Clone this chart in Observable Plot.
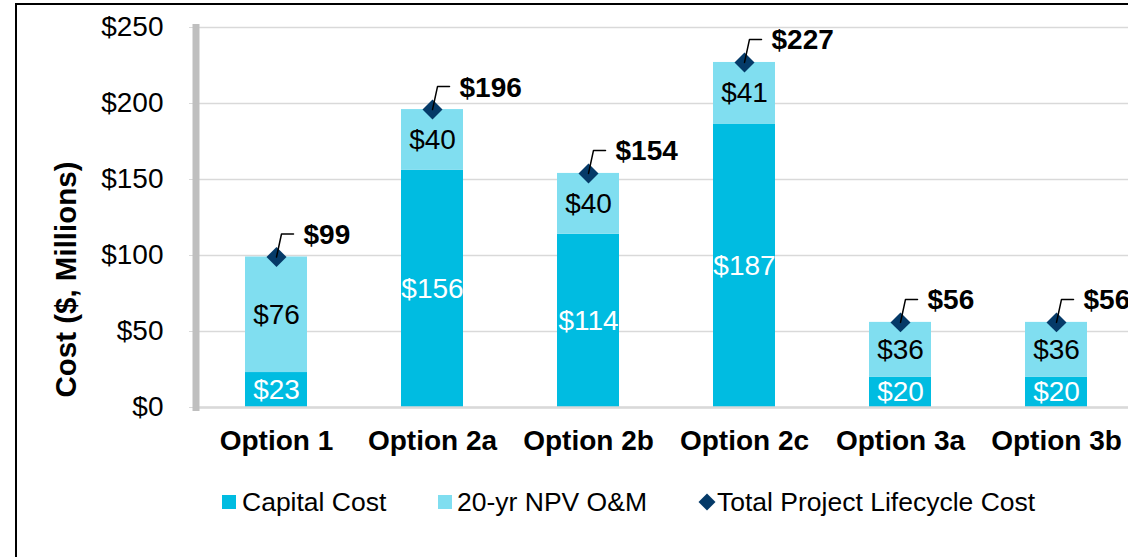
<!DOCTYPE html>
<html>
<head>
<meta charset="utf-8">
<script src="https://cdn.jsdelivr.net/npm/d3@7"></script>
<script src="https://cdn.jsdelivr.net/npm/@observablehq/plot@0.6"></script>
<style>
  html, body { margin: 0; padding: 0; background: #fff; overflow: hidden; }
  body { width: 1128px; height: 557px; position: relative; font-family: Arial, "Liberation Sans", sans-serif; }
  #border { position: absolute; left: 15px; top: 3px; width: 1300px; height: 800px; border: 2px solid #000; box-sizing: border-box; }
  #chart { position: absolute; left: 0; top: 0; }
  .leg { position: absolute; top: 486px; font-size: 26.5px; color: #000; line-height: 32px; white-space: nowrap; }
  .sw { position: absolute; width: 14px; height: 14px; }
</style>
</head>
<body>
<div id="border"></div>
<div id="chart"></div>
<div id="legend"></div>
<script>
// ---- data ----
const options = ["Option 1", "Option 2a", "Option 2b", "Option 2c", "Option 3a", "Option 3b"];
const capitalCost = [23, 156, 114, 186.5, 20, 20];
const omCost = [76, 40, 40, 40.5, 36, 36];
const totalCost = [99, 196, 154, 227, 56, 56];
const seriesNames = ["Capital Cost", "20-yr NPV O&M", "Total Project Lifecycle Cost"];
const yTicks = [0, 50, 100, 150, 200, 250];

const colCapital = "#00BCE1";
const colOM = "#80DEF0";
const colTotal = "#053A68";

const rows = [];
options.forEach((o, i) => {
  rows.push({option: o, series: seriesNames[0], value: capitalCost[i], fill: colCapital, labelFill: "white"});
  rows.push({option: o, series: seriesNames[1], value: omCost[i], fill: colOM, labelFill: "black"});
});
const totals = options.map((o, i) => ({option: o, total: totalCost[i]}));

const font = "Arial, 'Liberation Sans', sans-serif";

const leader = {
  draw(context) {
    context.moveTo(0, 0);
    context.lineTo(5, -23);
    context.lineTo(17, -23);
  }
};

const plot = Plot.plot({
  width: 1128,
  height: 470,
  marginTop: 27,
  marginBottom: 63,
  marginLeft: 196,
  marginRight: 0,
  style: {fontFamily: font, color: "#000", background: "transparent", overflow: "visible"},
  x: {domain: options, range: [198, 1134], paddingInner: 0.6, paddingOuter: 0.3, label: null},
  y: {domain: [0, 250], label: null},
  color: {type: "identity"},
  marks: [
    Plot.gridY(yTicks, {stroke: "#d9d9d9", strokeOpacity: 1, strokeWidth: 1.5}),
    Plot.axisY(yTicks, {tickFormat: d => "$" + d, tickSize: 7, tickPadding: 26, fontSize: 28, stroke: "#d9d9d9", strokeOpacity: 1, label: null}),
    Plot.axisX({tickSize: 0, tickPadding: 23, fontSize: 28, fontWeight: "bold", label: null}),
    Plot.barY(rows, {x: "option", y: "value", fill: "fill"}),
    Plot.ruleY([0], {stroke: "#d9d9d9", strokeWidth: 2.5}),
    Plot.frame({anchor: "left", stroke: "#bfbfbf", strokeWidth: 7, dx: -0.5}),
    Plot.text(rows, Plot.stackY({x: "option", y: "value", text: d => "$" + Math.round(d.value), fill: "labelFill", fontSize: 28})),
    Plot.dot(totals, {x: "option", y: "total", symbol: "diamond2", r: 9, fill: colTotal, stroke: "none"}),
    Plot.vector(totals, {x: "option", y: "total", length: 1, anchor: "start", shape: leader, stroke: "#000", strokeWidth: 1.5}),
    Plot.text(totals, {x: "option", y: "total", text: d => "$" + d.total, dx: 27, dy: -22, textAnchor: "start", fontWeight: "bold", fontSize: 28}),
    Plot.text(["Cost ($, Millions)"], {frameAnchor: "left", rotate: -90, dx: -130, dy: 180, fontWeight: "bold", fontSize: 29.5})
  ]
});
document.getElementById("chart").appendChild(plot);

// ---- legend ----
const legend = document.getElementById("legend");
const legendItems = [
  {name: seriesNames[0], color: colCapital, shape: "square", sw: 222, tx: 242},
  {name: seriesNames[1], color: colOM, shape: "square", sw: 438, tx: 457},
  {name: seriesNames[2], color: colTotal, shape: "diamond", sw: 700, tx: 717}
];
legendItems.forEach(it => {
  const sw = document.createElement("div");
  sw.className = "sw";
  sw.style.left = it.sw + "px";
  sw.style.top = "495px";
  sw.style.background = it.color;
  if (it.shape === "diamond") {
    sw.style.width = "12px"; sw.style.height = "12px";
    sw.style.top = "496px"; sw.style.left = (it.sw + 1) + "px";
    sw.style.transform = "rotate(45deg)";
  }
  legend.appendChild(sw);
  const t = document.createElement("div");
  t.className = "leg";
  t.style.left = it.tx + "px";
  t.textContent = it.name;
  legend.appendChild(t);
});
</script>
</body>
</html>
